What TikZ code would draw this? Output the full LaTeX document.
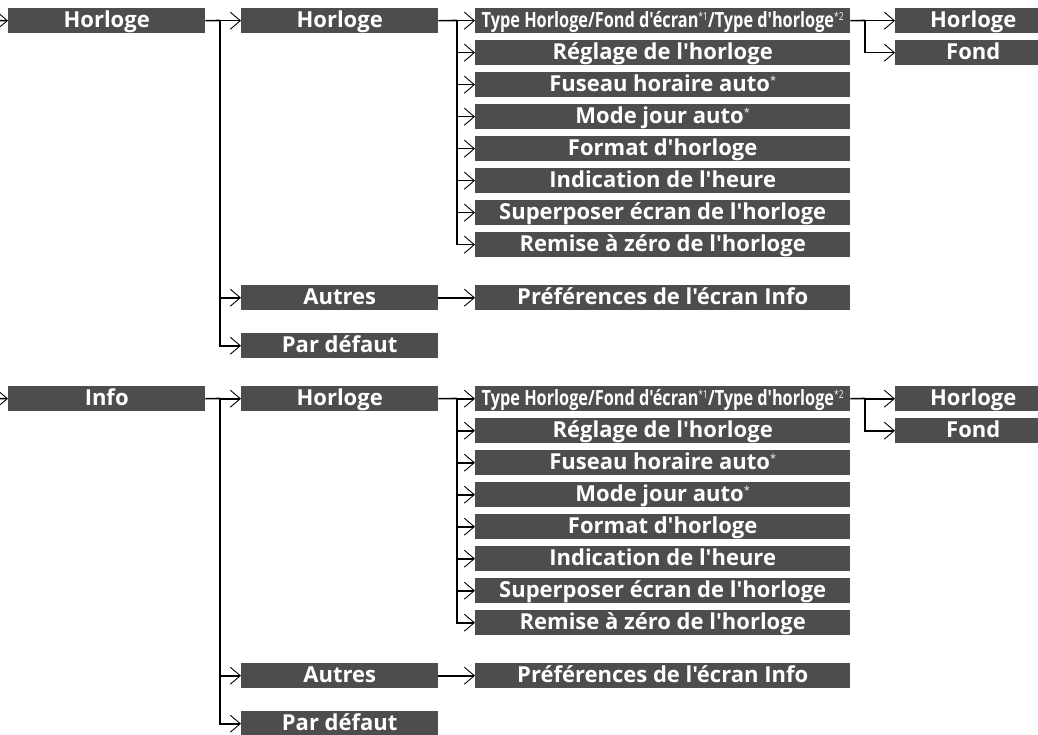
\documentclass[tikz,border=0pt]{standalone}
\usepackage{fontspec}
\setmainfont{Open Sans}[Ligatures=TeXOff]
\usepackage{graphicx}
\usetikzlibrary{arrows.meta}
\definecolor{boxgray}{HTML}{4D4D4D}
\newcommand\supx[1]{\raisebox{7pt}{\fontsize{11}{11}\mdseries\selectfont #1}}
\tikzset{
  bx/.style={fill=boxgray, text=white, font=\bfseries\fontsize{22}{22}\selectfont,
    inner sep=0pt, minimum height=25pt, anchor=north west, text height=16pt, text depth=3pt},
  conn/.style={line width=1.6pt},
  arr/.style={line width=1.6pt, -{Straight Barb[length=10pt,width=17pt,line width=0.9pt]}},
}
\newcommand\bxnode[5]{\node[bx, minimum width=#4pt] (#1) at (#2,#3) {#5};}
\begin{document}
\begin{tikzpicture}[x=1pt,y=-1pt]
\useasboundingbox (0,0) rectangle (1038,735);
\clip (0,0) rectangle (1038,735);
\foreach \dy/\s/\top in {0/a/Horloge, 378/b/Info}{
  % level 1
  \bxnode{L1\s}{8}{8+\dy}{197}{\top}
  % level 2
  \bxnode{H\s}{241}{8+\dy}{197}{Horloge}
  \bxnode{A\s}{241}{285+\dy}{197}{Autres}
  \bxnode{P\s}{241}{333+\dy}{197}{Par défaut}
  % level 3
  \bxnode{T1\s}{475}{8+\dy}{375}{\resizebox{362pt}{\height}{\fontsize{21}{21}\selectfont Type Horloge/Fond d'écran\supx{*1}/Type d'horloge\supx{*2}}}
  \bxnode{T2\s}{475}{40+\dy}{375}{Réglage de l'horloge}
  \bxnode{T3\s}{475}{72+\dy}{375}{Fuseau horaire auto\supx{*}}
  \bxnode{T4\s}{475}{104+\dy}{375}{Mode jour auto\supx{*}}
  \bxnode{T5\s}{475}{136+\dy}{375}{Format d'horloge}
  \bxnode{T6\s}{475}{168+\dy}{375}{Indication de l'heure}
  \bxnode{T7\s}{475}{200+\dy}{375}{Superposer écran de l'horloge}
  \bxnode{T8\s}{475}{232+\dy}{375}{Remise à zéro de l'horloge}
  \bxnode{Pr\s}{475}{285+\dy}{375}{Préférences de l'écran Info}
  % level 4
  \bxnode{F1\s}{895}{8+\dy}{156}{Horloge}
  \bxnode{F2\s}{895}{40+\dy}{156}{Fond}
  % junctions
  \coordinate (in\s) at (-10,20.5+\dy);
  \coordinate (j1\s) at (220,20.5+\dy);
  \coordinate (j2\s) at (457,20.5+\dy);
  \coordinate (j3\s) at (865,20.5+\dy);
  % connectors
  \draw[arr] (in\s) -- (L1\s.west);
  \draw[conn] (L1\s.east) -- (j1\s);
  \foreach \c in {H,A,P} \draw[arr] (j1\s) |- (\c\s.west);
  \draw[conn] (H\s.east) -- (j2\s);
  \foreach \c in {T1,T2,T3,T4,T5,T6,T7,T8} \draw[arr] (j2\s) |- (\c\s.west);
  \draw[arr] (A\s.east) -- (Pr\s.west);
  \draw[conn] (T1\s.east) -- (j3\s);
  \foreach \c in {F1,F2} \draw[arr] (j3\s) |- (\c\s.west);
}
\end{tikzpicture}
\end{document}
